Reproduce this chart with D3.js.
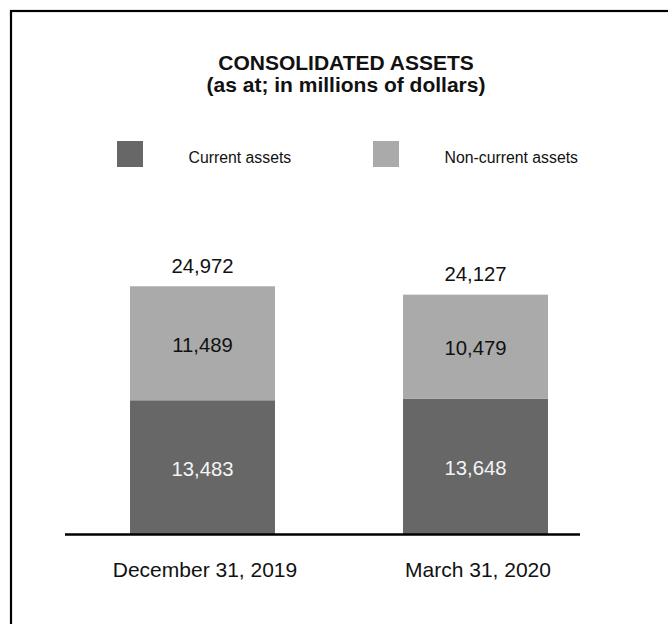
<!DOCTYPE html>
<html>
<head>
<meta charset="utf-8">
<script src="https://cdn.jsdelivr.net/npm/d3@7"></script>
<style>
  html, body { margin: 0; padding: 0; background: #fff; }
  svg { display: block; font-family: "Liberation Sans", Arial, sans-serif; }
</style>
</head>
<body>
<svg id="chart" width="668" height="624"></svg>
<script>
// Balance-sheet dates and the two stacked asset components (millions of dollars)
const categories = ["December 31, 2019", "March 31, 2020"];
const currentAssets = [13483, 13648];
const nonCurrentAssets = [11489, 10479];
const totalAssets = [24972, 24127];
const seriesNames = ["Current assets", "Non-current assets"];
const seriesColors = ["#676767", "#aaaaaa"];
const titleLines = ["CONSOLIDATED ASSETS", "(as at; in millions of dollars)"];

const fmt = d3.format(",");
const svg = d3.select("#chart");

// frame (right and bottom edges run past the page)
svg.append("rect")
  .attr("x", 11).attr("y", 11)
  .attr("width", 700).attr("height", 700)
  .attr("fill", "none").attr("stroke", "#000").attr("stroke-width", 2.2);

// title
svg.append("g").selectAll("text").data(titleLines).join("text")
  .attr("x", 346).attr("y", (d, i) => 70 + i * 21.5)
  .attr("text-anchor", "middle")
  .attr("font-size", 21).attr("font-weight", "bold").attr("fill", "#111")
  .text(d => d);

// legend
const legend = svg.append("g").selectAll("g").data(seriesNames).join("g")
  .attr("transform", (d, i) => `translate(${117 + i * 256},141)`);
legend.append("rect")
  .attr("width", 26).attr("height", 26)
  .attr("fill", (d, i) => seriesColors[i]);
legend.append("text")
  .attr("x", 71.5).attr("y", 22.3)
  .attr("font-size", 15.8).attr("fill", "#111")
  .text(d => d);

// scales
const x = d3.scaleBand().domain(categories).range([130, 548]).paddingInner(0.469).paddingOuter(0);
const y = d3.scaleLinear().domain([0, 30000]).range([534, 236.4]);

// stacked data
const rows = categories.map((c, i) => ({ cat: c, current: currentAssets[i], noncurrent: nonCurrentAssets[i], total: totalAssets[i] }));
const stack = d3.stack().keys(["current", "noncurrent"])(rows);

const layers = svg.append("g").selectAll("g").data(stack).join("g")
  .attr("fill", (d, i) => seriesColors[i]);
layers.selectAll("rect").data(d => d).join("rect")
  .attr("x", d => x(d.data.cat))
  .attr("width", x.bandwidth())
  .attr("y", d => y(d[1]))
  .attr("height", d => y(d[0]) - y(d[1]));

// segment value labels
const labelColors = ["#f4f4f4", "#111"];
stack.forEach((layer, li) => {
  svg.append("g").selectAll("text").data(layer).join("text")
    .attr("x", d => x(d.data.cat) + x.bandwidth() / 2)
    .attr("y", d => (y(d[0]) + y(d[1])) / 2 + 8.5)
    .attr("text-anchor", "middle")
    .attr("font-size", 20.3).attr("fill", labelColors[li])
    .text(d => fmt(d.data[layer.key]));
});

// totals above the bars
svg.append("g").selectAll("text").data(rows).join("text")
  .attr("x", d => x(d.cat) + x.bandwidth() / 2)
  .attr("y", d => y(d.total) - 13.6)
  .attr("text-anchor", "middle")
  .attr("font-size", 20.3).attr("fill", "#111")
  .text(d => fmt(d.total));

// baseline
svg.append("line")
  .attr("x1", 65).attr("x2", 580)
  .attr("y1", y(0) + 0.5).attr("y2", y(0) + 0.5)
  .attr("stroke", "#000").attr("stroke-width", 2.4);

// category axis labels
const xAxis = d3.axisBottom(x).tickSize(0).tickPadding(0);
const axisG = svg.append("g").attr("transform", `translate(2.5,${y(0)})`).call(xAxis);
axisG.select(".domain").remove();
axisG.selectAll("text")
  .attr("font-family", "\"Liberation Sans\", Arial, sans-serif")
  .attr("font-size", 21).attr("fill", "#111")
  .attr("dy", null).attr("y", 42.7);
</script>
</body>
</html>
